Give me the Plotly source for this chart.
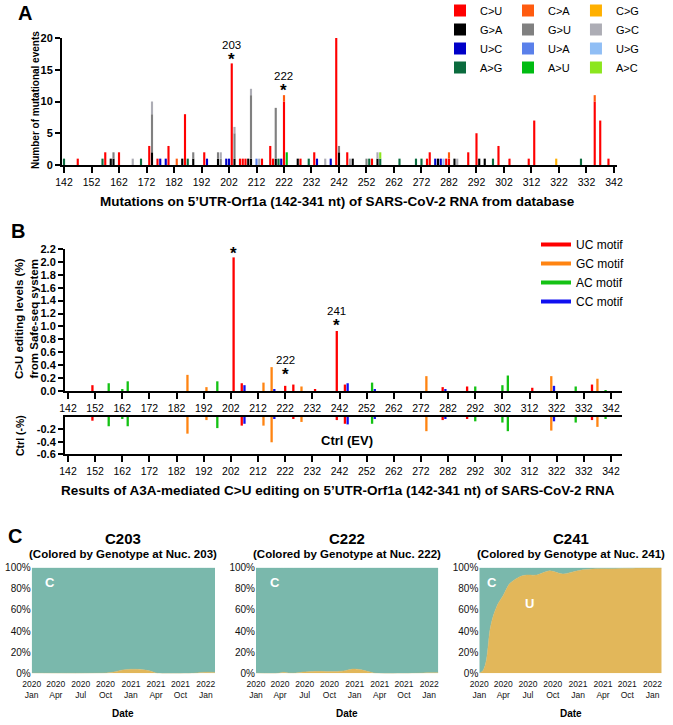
import plotly.graph_objects as go

W, H = 673, 725
def px(x): return x / W
def py(y): return 1 - y / H

FONT = "Liberation Sans, Arial, Helvetica, sans-serif"

# ---------------- Panel A data (mutation counts per nucleotide) ----------------
pos_CU = [147,157,162,173,176,180,186,193,203,206,207,208,214,217,218,222,228,233,241,245,254,274,275,281,282,289,292,300,304,311,313,335,337,340]
cnt_CU = [1,2,2,3,1,3,8,2,16,1,1,1,1,3,1,10,1,2,20,2,1,1,2,1,1,2,5,3,1,1,7,10,7,1]
pos_GA = [159,160,174,185,189,198,204,209,210,219,227,242,247,256,278,284,293,295]
cnt_GA = [1,1,2,1,1,1,1,1,1,1,1,2,1,1,1,1,1,1]
pos_UC = [177,179,194,201,202,221,234,239,277,279]
cnt_UC = [1,1,1,1,1,1,1,1,1,1]
pos_AG = [142,156,170,187,220,231,253,257,264,270,272,298,330]
cnt_AG = [1,1,1,1,1,1,1,1,1,1,1,1,1]
pos_CA = [183,222,282,335]
cnt_CA = [1,1,1,1]
pos_GU = [160,174,189,198,199,204,210,219,242,252]
cnt_GU = [1,6,1,1,1,4,10,8,1,1]
pos_UA = [212]
cnt_UA = [1]
pos_AU = [223]
cnt_AU = [2]
pos_CG = [321]
cnt_CG = [1]
pos_GC = [167,174,199,204,210,213,237,246,256,285]
cnt_GC = [1,2,1,1,1,1,1,1,1,1]
pos_UG = [280]
cnt_UG = [1]
pos_AC = [257]
cnt_AC = [1]

nt_ticks = list(range(142, 343, 10))
count_ticks = [0, 5, 10, 15, 20]
count_ticktext = ["0", "5", "10", "15", "20"]
highlight_nt = [203, 222, 241]

# ---------------- Panel B data (editing levels, %) ----------------
uc_pos = [151,203,206,222,225,233,241,244,280,289,313,335]
uc_val = [0.09,2.07,0.12,0.08,0.10,0.02,0.93,0.10,0.06,0.07,0.05,0.10]
gc_pos = [186,193,214,217,228,274,320,337]
gc_val = [0.25,0.06,0.13,0.37,0.07,0.23,0.23,0.19]
ac_pos = [157,162,164,197,254,292,302,304,329,340]
ac_val = [0.12,0.03,0.15,0.15,0.13,0.07,0.09,0.24,0.07,0.01]
cc_pos = [207,218,245,255,281,321]
cc_val = [0.09,0.02,0.12,0.02,0.03,0.08]

# Ctrl (EV)
uc_ctrl_pos = [151,206,225,241,244,280,289,335]
uc_ctrl_val = [-0.06,-0.14,-0.02,-0.05,-0.11,-0.05,-0.02,-0.05]
gc_ctrl_pos = [186,193,214,217,228,274,320,337]
gc_ctrl_val = [-0.27,-0.05,-0.14,-0.41,-0.08,-0.23,-0.22,-0.16]
ac_ctrl_pos = [157,162,164,197,254,292,302,304,329,340]
ac_ctrl_val = [-0.15,-0.03,-0.15,-0.18,-0.11,-0.07,-0.09,-0.23,-0.09,-0.02]
cc_ctrl_pos = [207,218,245,255,281,321]
cc_ctrl_val = [-0.11,-0.03,-0.12,-0.03,-0.03,-0.07]
ctrl_ticks = [-0.2, -0.4, -0.6]
ctrl_ticktext = ["-0.2", "-0.4", "-0.6"]

# ---------------- Panel C data (genotype share over time, % U) ----------------
date_tickvals = [0, 0.97, 1.97, 2.97, 3.99, 5.0, 5.98, 7.0]
date_ticktext = ["2020<br>Jan", "2020<br>Apr", "2020<br>Jul", "2020<br>Oct",
                 "2021<br>Jan", "2021<br>Apr", "2021<br>Oct", "2022<br>Jan"]
pct_ticks = [0, 20, 40, 60, 80, 100]
pct_ticktext = ["0%", "20%", "40%", "60%", "80%", "100%"]
c203_t = [0, 2.6, 3.0, 3.3, 3.6, 3.9, 4.2, 4.5, 4.8, 5.05, 6.5, 6.8, 7.1, 7.37]
c203_U = [0, 0, 0.3, 1.2, 3.0, 3.7, 3.8, 3.3, 2.0, 0, 0, 0.8, 1.0, 0.8]
c222_t = [0, 0.9, 1.1, 1.3, 1.6, 1.9, 2.3, 2.8, 3.3, 3.6, 3.9, 4.2, 4.5, 4.85, 6.5, 7.0, 7.37]
c222_U = [0, 0, 1.0, 0.3, 0.2, 1.2, 1.8, 1.8, 1.8, 2.5, 4.0, 3.5, 2.0, 0, 0, 0.5, 0.5]
c241_t = [0, 0.16, 0.29, 0.43, 0.56, 0.76, 0.97, 1.23, 1.64, 1.9, 2.31, 2.84, 3.38, 3.78, 4.18, 4.72, 5.39, 5.92, 6.46, 7.37]
c241_U = [0, 3, 13, 41, 54, 66, 74, 85, 91.5, 93, 93, 97, 94, 96, 98, 99, 99, 99.5, 99.8, 100]

# ---------------- styles ----------------
mut_series = [
    ("C>U", pos_CU, cnt_CU, "#FF0000", "c1"),
    ("G>A", pos_GA, cnt_GA, "#000000", "c1"),
    ("U>C", pos_UC, cnt_UC, "#0000C8", "c1"),
    ("A>G", pos_AG, cnt_AG, "#0B6B3E", "c1"),
    ("C>A", pos_CA, cnt_CA, "#FF5B0F", "c2"),
    ("G>U", pos_GU, cnt_GU, "#808080", "c2"),
    ("U>A", pos_UA, cnt_UA, "#5A80EA", "c2"),
    ("A>U", pos_AU, cnt_AU, "#00BC12", "c2"),
    ("C>G", pos_CG, cnt_CG, "#FFB000", "c3"),
    ("G>C", pos_GC, cnt_GC, "#ADADB5", "c3"),
    ("U>G", pos_UG, cnt_UG, "#90BEF5", "c3"),
    ("A>C", pos_AC, cnt_AC, "#8CE61E", "c3"),
]
motif_series = [
    ("UC motif", uc_pos, uc_val, uc_ctrl_pos, uc_ctrl_val, "#FF0000"),
    ("GC motif", gc_pos, gc_val, gc_ctrl_pos, gc_ctrl_val, "#FF8412"),
    ("AC motif", ac_pos, ac_val, ac_ctrl_pos, ac_ctrl_val, "#14C214"),
    ("CC motif", cc_pos, cc_val, cc_ctrl_pos, cc_ctrl_val, "#1010F0"),
]
TEAL = "#7AB8AC"
GOLD = "#E2B75A"

fig = go.Figure()

for name, p, c, col, grp in mut_series:
    fig.add_trace(go.Bar(x=p, y=c, name=name, marker=dict(color=col, line=dict(width=0)),
                         width=0.78, legendgroup=grp, xaxis="x", yaxis="y", legend="legend"))

for name, p, v, pc, vc, col in motif_series:
    fig.add_trace(go.Bar(x=p, y=v, marker=dict(color=col, line=dict(width=0)), width=0.85,
                         showlegend=False, xaxis="x2", yaxis="y2"))
    fig.add_trace(go.Bar(x=pc, y=vc, marker=dict(color=col, line=dict(width=0)), width=0.85,
                         showlegend=False, xaxis="x3", yaxis="y3"))
    fig.add_trace(go.Scatter(x=[None], y=[None], mode="lines", name=name,
                             line=dict(color=col, width=4), xaxis="x2", yaxis="y2",
                             legend="legend2"))

for i, (t, u) in enumerate([(c203_t, c203_U), (c222_t, c222_U), (c241_t, c241_U)]):
    xa = "x%d" % (4 + i); ya = "y%d" % (4 + i)
    cshare = [100 - val for val in u]
    fig.add_trace(go.Scatter(x=t, y=u, mode="lines", stackgroup="g%d" % i,
                             line=dict(width=0.5, color=GOLD, shape="spline", smoothing=0.8),
                             fillcolor=GOLD, showlegend=False, xaxis=xa, yaxis=ya))
    fig.add_trace(go.Scatter(x=t, y=cshare, mode="lines", stackgroup="g%d" % i,
                             line=dict(width=0.5, color=TEAL, shape="spline", smoothing=0.8),
                             fillcolor=TEAL, showlegend=False, xaxis=xa, yaxis=ya))

axis_common = dict(showline=True, linewidth=2, linecolor="black", ticks="outside",
                   tickwidth=2, tickcolor="black", showgrid=False, zeroline=False,
                   automargin=False, showticklabels=True)

layout = dict(
    template="none",
    width=W, height=H, margin=dict(l=0, r=0, t=0, b=0, autoexpand=False),
    paper_bgcolor="white", plot_bgcolor="white", barmode="relative",
    font=dict(family=FONT, color="black", size=11),
    xaxis=dict(domain=[px(62), px(617)], range=[141.27, 343.1], tickvals=nt_ticks,
               ticklen=6, tickfont=dict(size=10.5), anchor="y", **axis_common),
    yaxis=dict(domain=[py(165), py(38)], range=[0, 20], tickmode="array",
               tickvals=count_ticks, ticktext=count_ticktext,
               ticklen=5, tickfont=dict(size=11, weight="bold"), anchor="x", **axis_common),
    xaxis2=dict(domain=[px(65), px(622)], range=[140.9, 346.05], tickvals=nt_ticks,
                ticklen=6, tickfont=dict(size=10.5), anchor="y2", **axis_common),
    yaxis2=dict(domain=[py(391), py(249)], range=[0, 2.2], dtick=0.2, tickformat=".1f",
                ticklen=5, tickfont=dict(size=11, weight="bold"), anchor="x2", **axis_common),
    xaxis3=dict(domain=[px(65), px(622)], range=[140.9, 346.05], tickvals=nt_ticks,
                ticklen=6, tickfont=dict(size=10.5), anchor="y3", mirror=True, **axis_common),
    yaxis3=dict(domain=[py(454), py(417)], range=[-0.6, 0], tickvals=ctrl_ticks,
                ticktext=ctrl_ticktext, ticklen=5, tickfont=dict(size=11, weight="bold"),
                anchor="x3", **axis_common),
    legend=dict(orientation="h", traceorder="grouped", x=px(440), y=py(-4), xanchor="left",
                yanchor="top", font=dict(size=11), itemwidth=30, bgcolor="rgba(0,0,0,0)"),
    legend2=dict(x=px(536), y=py(230), xanchor="left", yanchor="top",
                 font=dict(size=12), itemwidth=30, bgcolor="rgba(0,0,0,0)"),
)
c_domains = [(31.7, 215), (256, 438.3), (479.3, 661.7)]
for i, (l, r) in enumerate(c_domains):
    layout["xaxis%d" % (4 + i)] = dict(domain=[px(l), px(r)], range=[0, 7.37],
                                       tickvals=date_tickvals, ticktext=date_ticktext,
                                       tickangle=0, automargin=False, ticklabelstandoff=4,
                                       showgrid=False, zeroline=False, showline=False,
                                       ticks="", tickfont=dict(size=8.5, color="#111"),
                                       anchor="y%d" % (4 + i))
    layout["yaxis%d" % (4 + i)] = dict(domain=[py(673.3), py(567.7)], range=[0, 100],
                                       tickmode="array", tickvals=pct_ticks, ticktext=pct_ticktext,
                                       automargin=False,
                                       showgrid=False, zeroline=False, showline=False,
                                       ticks="", tickfont=dict(size=10, color="#111"),
                                       anchor="x%d" % (4 + i))
fig.update_layout(**layout)

ann = []
def pa(text, x, y, size, bold=True, angle=0, color="black", xanchor="center"):
    ann.append(dict(text=text, x=px(x), y=py(y), xref="paper", yref="paper",
                    showarrow=False, xanchor=xanchor, yanchor="middle", textangle=angle,
                    font=dict(size=size, color=color, weight="bold" if bold else "normal")))

pa("A", 25, 13, 20)
pa("B", 18, 231, 20)
pa("C", 15, 536, 20)
pa("Mutations on 5’UTR-Orf1a (142-341 nt) of SARS-CoV-2 RNA from database", 337, 202, 13.5)
pa("Results of A3A-mediated C>U editing on 5’UTR-Orf1a (142-341 nt) of SARS-CoV-2 RNA", 338, 490, 13.5)
pa("Number of mutational events", 35, 100, 10, angle=-90)
pa("C>U editing levels (%)<br>from Safe-seq system", 27, 319, 11.5, angle=-90)
pa("Ctrl (-%)", 20, 436, 10.5, angle=-90)
pa("Ctrl (EV)", 347, 440, 13)

# highlighted sites: number + asterisk
a_star = [17.0, 12.1, 21.4]; a_num = [18.9, 14.0, 23.1]
b_star = [2.155, 0.29, 1.05]; b_num = [2.36, 0.48, 1.24]
for nt, s, n in zip(highlight_nt, a_star, a_num):
    ann.append(dict(text="*", x=nt, y=s, xref="x", yref="y", showarrow=False, yshift=-2,
                    font=dict(size=17, weight="bold")))
    ann.append(dict(text=str(nt), x=nt, y=n, xref="x", yref="y", showarrow=False,
                    font=dict(size=11.5)))
for nt, s, n in zip(highlight_nt, b_star, b_num):
    ann.append(dict(text="*", x=nt, y=s, xref="x2", yref="y2", showarrow=False, yshift=-2,
                    font=dict(size=17, weight="bold")))
    ann.append(dict(text=str(nt), x=nt, y=n, xref="x2", yref="y2", showarrow=False,
                    font=dict(size=11.5)))

# panel C titles
for (l, r), site in zip(c_domains, highlight_nt):
    cx = (l + r) / 2
    pa("C%d" % site, cx, 538, 15)
    pa("(Colored by Genotype at Nuc. %d)" % site, cx, 554, 11.5)
    pa("Date", cx, 713, 10)

# genotype labels inside areas
ann.append(dict(text="C", x=0.74, y=86, xref="x4", yref="y4", showarrow=False,
                font=dict(size=13, color="white", weight="bold")))
ann.append(dict(text="C", x=0.76, y=86, xref="x5", yref="y5", showarrow=False,
                font=dict(size=13, color="white", weight="bold")))
ann.append(dict(text="C", x=0.5, y=86, xref="x6", yref="y6", showarrow=False,
                font=dict(size=13, color="white", weight="bold")))
ann.append(dict(text="U", x=2.04, y=66, xref="x6", yref="y6", showarrow=False,
                font=dict(size=13, color="white", weight="bold")))

fig.update_layout(annotations=ann)
fig.write_html("out.html", config={"displayModeBar": False},
               post_script="document.body.style.margin='0px';document.body.style.padding='0px';")
